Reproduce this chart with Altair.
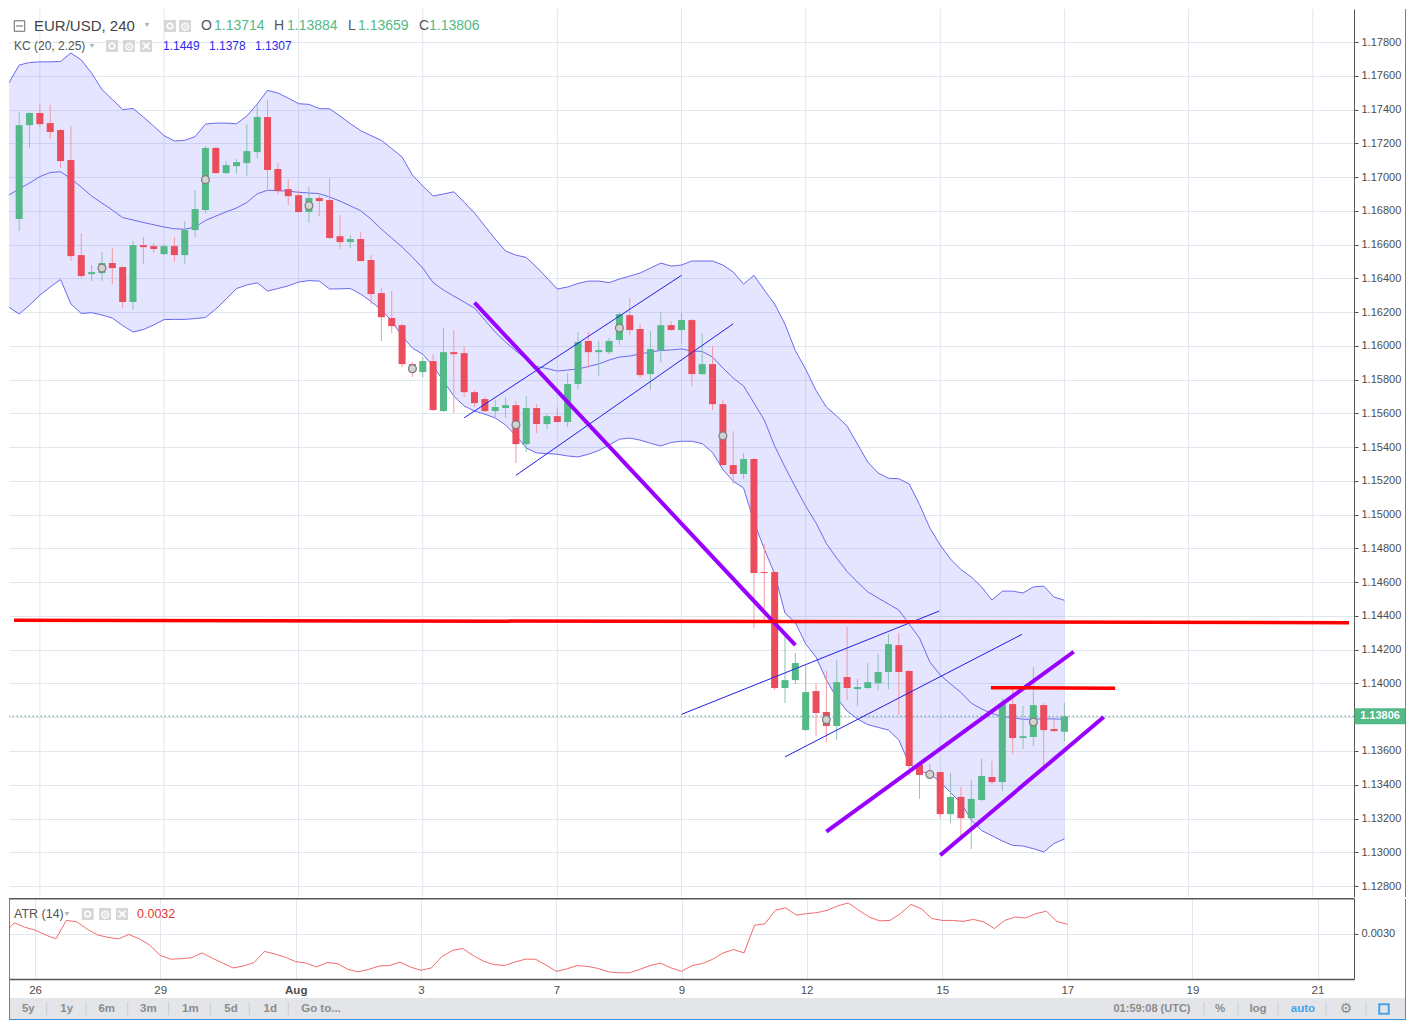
import json
import altair as alt
import pandas as pd

FONT = "Liberation Sans"
GREEN = "#53b987"
RED = "#eb4d5c"
WICK_UP = "#8fc1b8"
WICK_DN = "#f39aa4"
BAND_LINE = "#6a6af2"
BAND_FILL = "#6464ff"
GRID = "#e0e7ef"
AXIS = "#555555"
LABEL = "#4d4d4d"
FRAME = "#3b8fd9"

# ---------------- data (EUR/USD 4h, bar index 0 = last bar, Aug 17) ----------------
bar_index = list(range(-101, 1))
open_ = [
    1.16752, 1.17308, 1.17380, 1.17320, 1.17279, 1.17101, 1.16538, 1.16425, 1.16431, 1.16491,
    1.16467, 1.16260, 1.16597, 1.16591, 1.16544, 1.16591, 1.16538, 1.16686, 1.16805, 1.17173,
    1.17024, 1.17065, 1.17083, 1.17148, 1.17356, 1.17048, 1.16929, 1.16893, 1.16793, 1.16876,
    1.16864, 1.16650, 1.16615, 1.16633, 1.16509, 1.16313, 1.16165, 1.16123, 1.15892, 1.15845,
    1.15910, 1.15614, 1.15963, 1.15957, 1.15726, 1.15685, 1.15614, 1.15632, 1.15649, 1.15418,
    1.15632, 1.15537, 1.15584, 1.15549, 1.15774, 1.16029, 1.15963, 1.15963, 1.16035, 1.16182,
    1.16100, 1.15833, 1.15975, 1.16123, 1.16094, 1.16153, 1.15833, 1.15892, 1.15655, 1.15294,
    1.15241, 1.15330, 1.14660, 1.14660, 1.13973, 1.14020, 1.13724, 1.13955, 1.13831, 1.13748,
    1.14038, 1.13967, 1.13973, 1.14002, 1.14068, 1.14227, 1.14074, 1.13517, 1.13470, 1.13475,
    1.13226, 1.13328, 1.13202, 1.13310, 1.13446, 1.13416, 1.13878, 1.13677, 1.13683, 1.13872,
    1.13730, 1.13714,
]
high = [
    1.17386, 1.17386, 1.17433, 1.17427, 1.17285, 1.17302, 1.16668, 1.16479, 1.16556, 1.16580,
    1.16470, 1.16621, 1.16645, 1.16609, 1.16603, 1.16645, 1.16740, 1.16923, 1.17184, 1.17180,
    1.17095, 1.17107, 1.17314, 1.17427, 1.17457, 1.17083, 1.16988, 1.16923, 1.16941, 1.16905,
    1.16994, 1.16775, 1.16656, 1.16674, 1.16538, 1.16343, 1.16325, 1.16130, 1.15904, 1.15934,
    1.15951, 1.16106, 1.16094, 1.15999, 1.15738, 1.15697, 1.15679, 1.15697, 1.15673, 1.15703,
    1.15655, 1.15596, 1.15638, 1.15839, 1.16082, 1.16082, 1.16029, 1.16047, 1.16200, 1.16284,
    1.16129, 1.16088, 1.16200, 1.16147, 1.16194, 1.16159, 1.16076, 1.15999, 1.15679, 1.15495,
    1.15365, 1.15336, 1.14826, 1.14666, 1.14281, 1.14180, 1.14103, 1.14002, 1.14074, 1.14139,
    1.14335, 1.14026, 1.14121, 1.14174, 1.14293, 1.14299, 1.14080, 1.13529, 1.13523, 1.13481,
    1.13470, 1.13387, 1.13428, 1.13553, 1.13541, 1.13914, 1.13979, 1.13867, 1.14097, 1.13884,
    1.13789, 1.13884,
]
low = [
    1.16680, 1.17173, 1.17296, 1.17226, 1.17054, 1.16503, 1.16402, 1.16384, 1.16384, 1.16366,
    1.16224, 1.16212, 1.16485, 1.16550, 1.16540, 1.16497, 1.16485, 1.16645, 1.16787, 1.17020,
    1.17018, 1.17018, 1.17006, 1.17113, 1.16929, 1.16899, 1.16834, 1.16790, 1.16728, 1.16769,
    1.16635, 1.16574, 1.16580, 1.16500, 1.16248, 1.16029, 1.16076, 1.15874, 1.15815, 1.15815,
    1.15615, 1.15610, 1.15602, 1.15697, 1.15638, 1.15608, 1.15573, 1.15573, 1.15306, 1.15371,
    1.15483, 1.15507, 1.15545, 1.15519, 1.15744, 1.15869, 1.15821, 1.15951, 1.16005, 1.16064,
    1.15810, 1.15738, 1.15904, 1.16090, 1.16011, 1.15762, 1.15827, 1.15620, 1.15290, 1.15181,
    1.15211, 1.14329, 1.14370, 1.13961, 1.13884, 1.13997, 1.13720, 1.13688, 1.13653, 1.13665,
    1.13902, 1.13867, 1.13970, 1.13961, 1.13967, 1.13813, 1.13452, 1.13316, 1.13434, 1.13202,
    1.13173, 1.13096, 1.13019, 1.13304, 1.13404, 1.13363, 1.13582, 1.13612, 1.13629, 1.13481,
    1.13714, 1.13659,
]
close = [
    1.17308, 1.17380, 1.17314, 1.17267, 1.17095, 1.16532, 1.16414, 1.16437, 1.16491, 1.16461,
    1.16260, 1.16597, 1.16585, 1.16574, 1.16591, 1.16538, 1.16686, 1.16811, 1.17173, 1.17024,
    1.17071, 1.17089, 1.17154, 1.17356, 1.17042, 1.16917, 1.16887, 1.16793, 1.16876, 1.16858,
    1.16639, 1.16615, 1.16633, 1.16503, 1.16307, 1.16170, 1.16117, 1.15892, 1.15845, 1.15910,
    1.15620, 1.15963, 1.15951, 1.15726, 1.15661, 1.15614, 1.15638, 1.15649, 1.15418, 1.15632,
    1.15537, 1.15584, 1.15549, 1.15774, 1.16023, 1.15963, 1.15975, 1.16029, 1.16188, 1.16094,
    1.15827, 1.15981, 1.16123, 1.16094, 1.16153, 1.15833, 1.15892, 1.15655, 1.15294, 1.15241,
    1.15330, 1.14654, 1.14654, 1.13973, 1.14020, 1.14121, 1.13949, 1.13825, 1.13748, 1.14008,
    1.13973, 1.13979, 1.14008, 1.14068, 1.14233, 1.14068, 1.13511, 1.13458, 1.13452, 1.13226,
    1.13328, 1.13202, 1.13316, 1.13452, 1.13416, 1.13878, 1.13677, 1.13688, 1.13872, 1.13724,
    1.13718, 1.13806,
]

band_index = list(range(-102, 1))
kc_upper = [
    1.17557, 1.17664, 1.17679, 1.17683, 1.17683, 1.17685, 1.17735, 1.17694, 1.17616, 1.17519,
    1.17460, 1.17400, 1.17407, 1.17356, 1.17302, 1.17246, 1.17214, 1.17218, 1.17240, 1.17314,
    1.17320, 1.17320, 1.17316, 1.17362, 1.17433, 1.17514, 1.17498, 1.17468, 1.17435, 1.17431,
    1.17406, 1.17405, 1.17362, 1.17317, 1.17275, 1.17246, 1.17218, 1.17169, 1.17119, 1.17012,
    1.16947, 1.16888, 1.16900, 1.16913, 1.16852, 1.16787, 1.16710, 1.16633, 1.16562, 1.16538,
    1.16524, 1.16467, 1.16402, 1.16337, 1.16349, 1.16370, 1.16384, 1.16384, 1.16375, 1.16396,
    1.16414, 1.16432, 1.16461, 1.16491, 1.16473, 1.16479, 1.16503, 1.16503, 1.16503, 1.16479,
    1.16438, 1.16366, 1.16418, 1.16331, 1.16248, 1.16129, 1.15972, 1.15862, 1.15736, 1.15638,
    1.15584, 1.15525, 1.15419, 1.15312, 1.15247, 1.15216, 1.15213, 1.15182, 1.15060, 1.14921,
    1.14820, 1.14737, 1.14675, 1.14631, 1.14572, 1.14494, 1.14547, 1.14547, 1.14536, 1.14572,
    1.14577, 1.14512, 1.14493,
]
kc_middle = [
    1.16894, 1.16929, 1.16965, 1.17003, 1.17027, 1.17032, 1.16991, 1.16941, 1.16888, 1.16846,
    1.16805, 1.16760, 1.16746, 1.16731, 1.16718, 1.16704, 1.16694, 1.16691, 1.16704, 1.16743,
    1.16769, 1.16794, 1.16817, 1.16850, 1.16901, 1.16922, 1.16920, 1.16917, 1.16910, 1.16906,
    1.16902, 1.16882, 1.16858, 1.16830, 1.16801, 1.16751, 1.16692, 1.16639, 1.16586, 1.16526,
    1.16461, 1.16375, 1.16331, 1.16295, 1.16260, 1.16224, 1.16153, 1.16082, 1.16023, 1.15970,
    1.15922, 1.15878, 1.15866, 1.15851, 1.15857, 1.15863, 1.15878, 1.15893, 1.15916, 1.15934,
    1.15940, 1.15952, 1.15964, 1.15973, 1.15976, 1.15982, 1.15970, 1.15967, 1.15934, 1.15869,
    1.15810, 1.15762, 1.15662, 1.15561, 1.15407, 1.15282, 1.15164, 1.15051, 1.14951, 1.14829,
    1.14743, 1.14663, 1.14601, 1.14543, 1.14506, 1.14471, 1.14435, 1.14352, 1.14269, 1.14127,
    1.14050, 1.13997, 1.13947, 1.13884, 1.13849, 1.13822, 1.13804, 1.13797, 1.13788, 1.13788,
    1.13791, 1.13790, 1.13788,
]
kc_lower = [
    1.16230, 1.16189, 1.16242, 1.16301, 1.16349, 1.16393, 1.16248, 1.16192, 1.16197, 1.16183,
    1.16165, 1.16121, 1.16082, 1.16097, 1.16124, 1.16156, 1.16157, 1.16157, 1.16162, 1.16168,
    1.16218, 1.16278, 1.16340, 1.16361, 1.16374, 1.16325, 1.16340, 1.16356, 1.16378, 1.16387,
    1.16384, 1.16337, 1.16338, 1.16340, 1.16307, 1.16263, 1.16214, 1.16147, 1.16058, 1.15987,
    1.15950, 1.15881, 1.15792, 1.15703, 1.15644, 1.15614, 1.15596, 1.15573, 1.15531, 1.15469,
    1.15395, 1.15366, 1.15362, 1.15358, 1.15348, 1.15342, 1.15358, 1.15380, 1.15413, 1.15447,
    1.15454, 1.15442, 1.15423, 1.15407, 1.15428, 1.15435, 1.15435, 1.15421, 1.15368, 1.15268,
    1.15198, 1.15158, 1.14957, 1.14797, 1.14649, 1.14417, 1.14361, 1.14234, 1.14157, 1.14021,
    1.13914, 1.13837, 1.13790, 1.13756, 1.13740, 1.13724, 1.13665, 1.13525, 1.13481, 1.13466,
    1.13416, 1.13354, 1.13293, 1.13191, 1.13129, 1.13098, 1.13067, 1.13041, 1.13037, 1.13021,
    1.13002, 1.13052, 1.13079,
]

atr_index = list(range(-102, 1))
atr_values = [
    0.00300, 0.00323, 0.00314, 0.00308, 0.00298, 0.00290, 0.00328, 0.00325, 0.00310, 0.00298,
    0.00293, 0.00290, 0.00299, 0.00290, 0.00277, 0.00256, 0.00248, 0.00249, 0.00251, 0.00261,
    0.00250, 0.00240, 0.00230, 0.00234, 0.00241, 0.00264, 0.00259, 0.00252, 0.00243, 0.00240,
    0.00232, 0.00241, 0.00239, 0.00227, 0.00222, 0.00227, 0.00234, 0.00235, 0.00242, 0.00232,
    0.00225, 0.00230, 0.00253, 0.00266, 0.00270, 0.00256, 0.00244, 0.00237, 0.00235, 0.00242,
    0.00248, 0.00248, 0.00236, 0.00223, 0.00228, 0.00235, 0.00233, 0.00229, 0.00222, 0.00220,
    0.00220, 0.00227, 0.00235, 0.00240, 0.00230, 0.00223, 0.00235, 0.00239, 0.00248, 0.00261,
    0.00268, 0.00261, 0.00318, 0.00321, 0.00349, 0.00354, 0.00339, 0.00342, 0.00344, 0.00349,
    0.00358, 0.00364, 0.00349, 0.00335, 0.00327, 0.00328, 0.00342, 0.00361, 0.00352, 0.00332,
    0.00328, 0.00328, 0.00326, 0.00330, 0.00325, 0.00311, 0.00328, 0.00335, 0.00333, 0.00342,
    0.00347, 0.00326, 0.00320,
]

marker_index = [-93, -83, -73, -63, -53, -43, -33, -23, -13, -3]
marker_price = [1.16461, 1.16985, 1.16831, 1.15865, 1.15533, 1.16106, 1.15467, 1.13786, 1.13461, 1.13772]

# drawn trend lines: start (bar, price) -> end (bar, price)
line_x_start = [-57.0, -58.0, -53.0, -37.0, -27.0, -23.0, -12.0, -101.5, -7.1]
line_p_start = [1.16256, 1.15574, 1.15233, 1.13817, 1.13565, 1.13122, 1.12982, 1.14375, 1.13975]
line_x_end = [-26.0, -37.0, -32.0, -12.1, -4.1, 0.9, 3.8, 27.5, 4.9]
line_p_end = [1.14227, 1.16418, 1.16131, 1.14429, 1.14291, 1.14188, 1.13801, 1.14360, 1.13972]
line_kind = ["purple", "blue", "blue", "blue", "blue", "purple", "purple", "red", "red"]

tick_index = [-99, -87, -74, -62, -49, -37, -25, -12, 0, 12, 24]
tick_labels = ["26", "29", "Aug", "3", "7", "9", "12", "15", "17", "19", "21"]
price_ticks = [1.128, 1.130, 1.132, 1.134, 1.136, 1.138, 1.140, 1.142, 1.144, 1.146, 1.148,
               1.150, 1.152, 1.154, 1.156, 1.158, 1.160, 1.162, 1.164, 1.166, 1.168, 1.170,
               1.172, 1.174, 1.176, 1.178]
atr_ticks = [0.0030]
last_close = 1.13806

# ---------------- layout ----------------
W, H_MAIN, H_ATR = 1345, 888, 81
Y_MIN, Y_MAX = 1.12735, 1.17996
KIND_COLOR = {"purple": "#9900ff", "blue": "#1f1fe8", "red": "#ff0000"}
KIND_WIDTH = {"purple": 4, "blue": 1, "red": 3.5}

candles = pd.DataFrame({"i": bar_index, "o": open_, "h": high, "l": low, "c": close})
candles["top"] = candles[["o", "c"]].max(axis=1)
candles["bot"] = candles[["o", "c"]].min(axis=1)
candles["body_col"] = [GREEN if c >= o else RED for o, c in zip(open_, close)]
candles["wick_col"] = [WICK_UP if c >= o else WICK_DN for o, c in zip(open_, close)]

band = pd.DataFrame({"i": band_index, "up": kc_upper, "mid": kc_middle, "lo": kc_lower})
markers = pd.DataFrame({"i": marker_index, "p": marker_price})
segs = pd.DataFrame({
    "xa": line_x_start, "pa": line_p_start, "xb": line_x_end, "pb": line_p_end,
    "col": [KIND_COLOR[k] for k in line_kind], "w": [KIND_WIDTH[k] for k in line_kind],
})
half_tag = 8 * (Y_MAX - Y_MIN) / H_MAIN  # 8 px expressed in price units
lastdf = pd.DataFrame({"p": [last_close], "t": [f"{last_close:.5f}"],
                       "ptop": [last_close + half_tag], "pbot": [last_close - half_tag]})
atr = pd.DataFrame({"i": atr_index, "atr": atr_values})
vgrid = pd.DataFrame({"i": tick_index})
ONE = pd.DataFrame({"k": [0]})

xscale = alt.Scale(domain=[-101.5, 27.5], nice=False, zero=False)
yscale = alt.Scale(domain=[Y_MIN, Y_MAX], nice=False, zero=False)
ascale = alt.Scale(domain=[0.002072, 0.003742], nice=False, zero=False)

Y_AXIS_MAIN = alt.Axis(orient="right", values=price_ticks, format=".5f", grid=True, gridColor=GRID,
                       domain=True, domainColor=AXIS, tickColor=AXIS, tickSize=4, labelPadding=3,
                       labelColor=LABEL, labelFontSize=11, title=None)

label_expr = f"{json.dumps(tick_labels)}[indexof({json.dumps(tick_index)}, datum.value)]"
X_AXIS_ATR = alt.Axis(values=tick_index, labelExpr=label_expr, grid=True, gridColor=GRID, ticks=False,
                      domain=True, domainColor=AXIS, domainWidth=1.5, labelPadding=5, labelFontSize=11.5,
                      labelColor=LABEL, labelFlush=False, title=None,
                      labelFontWeight=alt.ExprRef(expr="datum.value == -74 ? 'bold' : 'normal'"))
Y_AXIS_ATR = alt.Axis(orient="right", values=atr_ticks, format=".4f", grid=True, gridColor=GRID,
                      domain=True, domainColor=AXIS, tickColor=AXIS, tickSize=4, labelPadding=3,
                      labelColor=LABEL, labelFontSize=11, title=None)


def xm(f):
    return alt.X(f"{f}:Q", scale=xscale, axis=None, title=None)


def ym(f):
    return alt.Y(f"{f}:Q", scale=yscale, axis=Y_AXIS_MAIN, title=None)


def txt(s, x, y, size=12, color="#555555", weight="normal", align="left", font=FONT):
    return alt.Chart(ONE).mark_text(align=align, baseline="middle", font=font, fontSize=size,
                                    color=color, fontWeight=weight).encode(
        x=alt.value(x), y=alt.value(y), text=alt.value(s))


def box(x, y, size=144, color="#d7d7d7"):
    return alt.Chart(ONE).mark_square(size=size, color=color, opacity=1).encode(
        x=alt.value(x), y=alt.value(y))


def icon_set(xs, y):
    out = []
    for n, x in enumerate(xs):
        out.append(box(x, y))
        if n == 0:
            out.append(alt.Chart(ONE).mark_point(shape="circle", size=30, stroke="white", strokeWidth=1.6,
                                                 filled=False, opacity=1).encode(x=alt.value(x), y=alt.value(y)))
        elif n == 1:
            out.append(txt("\u2699", x, y + 0.5, size=12, color="white", align="center", font="DejaVu Sans"))
        else:
            out.append(txt("\u00d7", x, y, size=15, color="white", weight="bold", align="center"))
    return out


def tri(x, y):
    return alt.Chart(ONE).mark_point(shape="triangle-down", filled=True, color="#b3b3b3", size=22,
                                     opacity=1).encode(x=alt.value(x), y=alt.value(y))


# ---------------- main pane ----------------
main_layers = [
    alt.Chart(vgrid).mark_rule(color=GRID, strokeWidth=1).encode(x=xm("i")),
    alt.Chart(band).mark_area(color=BAND_FILL, opacity=0.17, clip=True).encode(
        x=xm("i"), y=ym("up"), y2=alt.Y2("lo")),
    alt.Chart(band).mark_line(color=BAND_LINE, strokeWidth=1, clip=True).encode(x=xm("i"), y=ym("up")),
    alt.Chart(band).mark_line(color=BAND_LINE, strokeWidth=1, clip=True).encode(x=xm("i"), y=ym("mid")),
    alt.Chart(band).mark_line(color=BAND_LINE, strokeWidth=1, clip=True).encode(x=xm("i"), y=ym("lo")),
    alt.Chart(lastdf).mark_rule(color="#4f9e86", strokeDash=[1.5, 2.5], strokeWidth=1).encode(y=ym("p")),
    alt.Chart(candles).mark_rule(strokeWidth=1).encode(
        x=xm("i"), y=ym("l"), y2=alt.Y2("h"), color=alt.Color("wick_col:N", scale=None)),
    alt.Chart(candles).mark_bar(size=7, orient="vertical").encode(
        x=xm("i"), y=ym("bot"), y2=alt.Y2("top"), color=alt.Color("body_col:N", scale=None)),
    alt.Chart(markers).mark_point(shape="circle", size=62, fill="#d3d3d3", stroke="#7d7d7d",
                                  strokeWidth=1.2, opacity=1, fillOpacity=1).encode(x=xm("i"), y=ym("p")),
    alt.Chart(segs).mark_rule(strokeCap="butt", clip=True).encode(
        x=xm("xa"), x2=alt.X2("xb"), y=ym("pa"), y2=alt.Y2("pb"),
        color=alt.Color("col:N", scale=None), strokeWidth=alt.StrokeWidth("w:Q", scale=None)),
    # last price tag on the axis
    alt.Chart(lastdf).mark_rect(color=GREEN, opacity=1).encode(
        x=alt.value(W + 0.5), x2=alt.value(W + 52), y=ym("ptop"), y2=alt.Y2("pbot")),
    alt.Chart(lastdf).mark_text(color="white", fontSize=11, fontWeight="bold", font=FONT,
                                baseline="middle", align="center").encode(
        x=alt.value(W + 26), y=ym("p"), text="t:N"),
    # frame on the right
    alt.Chart(ONE).mark_rule(color=FRAME, strokeWidth=1).encode(
        x=alt.value(1396.5), y=alt.value(0), y2=alt.value(H_MAIN)),
    # header legend
    alt.Chart(ONE).mark_square(size=110, filled=False, stroke="#666666", strokeWidth=1, opacity=1).encode(
        x=alt.value(10.5), y=alt.value(17)),
    alt.Chart(ONE).mark_rule(color="#666666", strokeWidth=1).encode(
        x=alt.value(7), x2=alt.value(14), y=alt.value(17)),
    txt("EUR/USD, 240", 25, 17, size=15, color="#444444"),
    tri(138, 16),
    *icon_set([161, 176], 17),
    txt("O", 192, 17, size=14, color="#555555"),
    txt("1.13714", 205, 17, size=14, color=GREEN),
    txt("H", 265, 17, size=14, color="#555555"),
    txt("1.13884", 278, 17, size=14, color=GREEN),
    txt("L", 339, 17, size=14, color="#555555"),
    txt("1.13659", 349, 17, size=14, color=GREEN),
    txt("C", 410, 17, size=14, color="#555555"),
    txt("1.13806", 420, 17, size=14, color=GREEN),
    txt("KC (20, 2.25)", 5, 37, size=12, color="#555555"),
    tri(83, 37),
    *icon_set([103, 120, 137], 37),
    txt("1.1449", 154, 37, size=12, color="#2a2ae8"),
    txt("1.1378", 200, 37, size=12, color="#2a2ae8"),
    txt("1.1307", 246, 37, size=12, color="#2a2ae8"),
]
main = alt.layer(*main_layers).properties(width=W, height=H_MAIN)

# ---------------- ATR pane + toolbar ----------------
toolbar_left = ["5y", "1y", "6m", "3m", "1m", "5d", "1d", "Go to..."]
toolbar_left_x = [19.3, 57.7, 97.7, 139.3, 181.3, 222, 261.3, 312]
toolbar_sep_x = [37.7, 77, 118.7, 159.7, 201.3, 240.3, 279.3, 1195, 1229, 1269, 1317, 1357]
TB = "#8c8c8c"

atr_layers = [
    alt.Chart(atr).mark_line(color="#f26b6b", strokeWidth=1, clip=True).encode(
        x=alt.X("i:Q", scale=xscale, axis=X_AXIS_ATR, title=None),
        y=alt.Y("atr:Q", scale=ascale, axis=Y_AXIS_ATR, title=None)),
    # pane separator
    alt.Chart(ONE).mark_rule(color=AXIS, strokeWidth=1.6).encode(
        x=alt.value(0), x2=alt.value(W), y=alt.value(0.8)),
    txt("ATR (14)", 5, 16, size=12.5, color="#555555"),
    tri(58, 16),
    *icon_set([78.7, 96, 113], 16),
    txt("0.0032", 128, 16, size=12.5, color="#e53935"),
    # toolbar
    alt.Chart(ONE).mark_rect(color="#e3e5e8", opacity=1).encode(
        x=alt.value(0), x2=alt.value(1397), y=alt.value(100), y2=alt.value(121)),
    alt.Chart(ONE).mark_rule(color=FRAME, strokeWidth=1).encode(
        x=alt.value(0), x2=alt.value(1397), y=alt.value(121.5)),
    alt.Chart(ONE).mark_rule(color=FRAME, strokeWidth=1).encode(
        x=alt.value(1396.5), y=alt.value(1), y2=alt.value(122)),
    alt.Chart(ONE).mark_rule(color=FRAME, strokeWidth=1).encode(
        x=alt.value(0.5), y=alt.value(1), y2=alt.value(122)),
]
for sx in toolbar_sep_x:
    atr_layers.append(alt.Chart(ONE).mark_rule(color="#c9ccd0", strokeWidth=1).encode(
        x=alt.value(sx), y=alt.value(104), y2=alt.value(117)))
for s, x in zip(toolbar_left, toolbar_left_x):
    atr_layers.append(txt(s, x, 111, size=11.5, color=TB, weight="bold", align="center"))
atr_layers += [
    txt("01:59:08 (UTC)", 1143, 111, size=11, color=TB, weight="bold", align="center"),
    txt("%", 1211, 111, size=11.5, color=TB, weight="bold", align="center"),
    txt("log", 1249, 111, size=11.5, color=TB, weight="bold", align="center"),
    txt("auto", 1294, 111, size=11.5, color="#45a3e6", weight="bold", align="center"),
    txt("\u2699", 1337, 111, size=14, color=TB, align="center", font="DejaVu Sans"),
    alt.Chart(ONE).mark_square(size=90, filled=False, stroke="#45a3e6", strokeWidth=2, opacity=1).encode(
        x=alt.value(1375), y=alt.value(111)),
]
atr_chart = alt.layer(*atr_layers).properties(width=W, height=H_ATR)

chart = (
    alt.vconcat(main, atr_chart, spacing=-2)
    .properties(padding={"left": 0, "top": 0, "right": 0, "bottom": 0}, background="white")
    .configure_view(stroke=None)
    .configure_axis(labelFont=FONT)
)

chart.save("out.html", embed_options={"renderer": "svg", "actions": False})
